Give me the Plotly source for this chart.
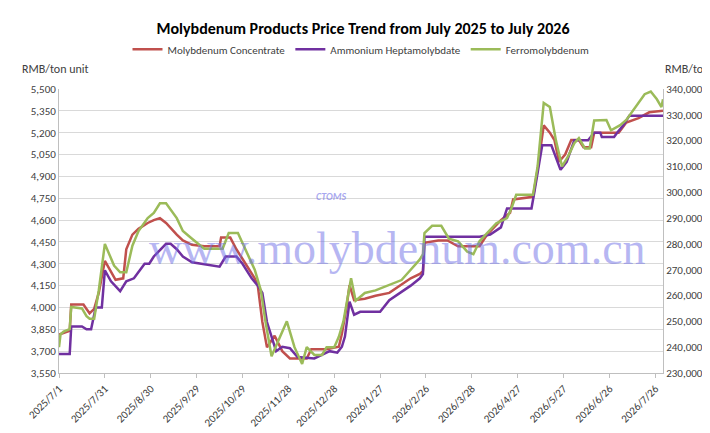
import plotly.graph_objects as go
import pandas as pd

start = pd.Timestamp("2025-07-01")

conc_days = [0,7,8,16,18,20,23,26,30,34,37,42,44,48,52,58,62,66,70,77,81,87,95,105,106,112,116,122,128,130,133,136,141,146,151,162,165,175,179,183,185,188,190,193,200,207,216,223,230,236,238,239,248,254,261,275,280,289,295,297,310,313,317,321,324,327,331,335,340,343,348,350,366,371,379,386,395]
conc_vals = [3814,3840,4020,4020,3990,3960,3990,4100,4320,4250,4190,4200,4400,4500,4540,4580,4600,4613,4580,4500,4460,4430,4420,4420,4480,4480,4400,4300,4200,4150,3900,3726,3806,3700,3650,3650,3713,3713,3720,3730,3820,4000,4153,4050,4060,4080,4100,4150,4200,4230,4250,4444,4460,4460,4420,4420,4500,4600,4650,4742,4760,4950,5250,5200,5150,5000,5050,5150,5150,5100,5100,5200,5200,5270,5300,5340,5350]

ahm_days = [0,7,8,15,18,21,24,28,30,34,40,44,49,56,59,62,70,73,77,81,87,100,105,109,116,120,126,130,133,136,142,146,151,156,167,177,182,185,187,190,193,197,210,216,223,230,236,238,239,275,282,289,293,309,311,316,322,326,328,332,337,346,350,354,355,363,365,369,373,395]
ahm_vals = [3680,3680,3870,3870,3850,3850,4000,4000,4254,4180,4112,4180,4200,4300,4300,4350,4437,4437,4400,4350,4310,4290,4280,4350,4350,4300,4200,4150,4100,3900,3700,3730,3720,3660,3650,3700,3690,3730,3800,4040,3950,3970,3970,4050,4100,4150,4200,4230,4485,4485,4500,4550,4680,4680,4800,5114,5114,5000,4945,5000,5148,5148,5200,5200,5170,5170,5200,5250,5317,5317]

ferro_days = [0,1,3,7,8,15,18,20,23,26,30,36,40,44,48,52,58,62,66,70,77,81,87,95,107,111,117,122,128,132,135,139,145,149,154,159,162,167,172,175,180,183,186,191,194,200,207,216,224,230,236,238,239,244,250,255,261,267,271,275,281,286,293,296,299,310,313,317,321,325,329,333,337,340,344,347,350,358,361,367,371,377,383,387,391,394,395]
ferro_vals = [240000,245000,246000,247000,255600,255000,252000,251000,251000,262000,280000,271600,269000,269000,279300,285000,290000,292000,295700,295700,290000,285000,282000,278100,278100,284200,284200,278000,270000,262000,250000,236500,245000,250000,240000,233500,240000,237000,237000,240000,240000,244000,250000,266700,258000,261000,262000,264000,266000,270000,274000,276000,284200,287000,287000,282000,281000,277000,276000,281000,285000,288000,290000,294000,299000,299000,310000,334600,333000,320000,310000,314000,319000,321000,317000,317000,327800,328000,324000,326000,328000,333000,338000,339000,336000,333000,336000]

tick_labels = ["2025/7/1","2025/7/31","2025/8/30","2025/9/29","2025/10/29","2025/11/28","2025/12/28","2026/1/27","2026/2/26","2026/3/28","2026/4/27","2026/5/27","2026/6/26","2026/7/26"]

def dates(d):
    return [start + pd.Timedelta(days=x) for x in d]

fig = go.Figure()
fig.add_trace(go.Scatter(x=dates(conc_days), y=conc_vals, name="Molybdenum Concentrate",
                         mode="lines", line=dict(color="#C0504D", width=2.5)))
fig.add_trace(go.Scatter(x=dates(ahm_days), y=ahm_vals, name="Ammonium Heptamolybdate",
                         mode="lines", line=dict(color="#7030A0", width=2.5)))
fig.add_trace(go.Scatter(x=dates(ferro_days), y=ferro_vals, name="Ferromolybdenum", yaxis="y2",
                         mode="lines", line=dict(color="#9BBB59", width=2.5)))

tickvals = [pd.Timestamp(t.replace("/", "-")) for t in tick_labels]
font = "Calibri, Liberation Sans, Arial, sans-serif"
fig.update_layout(
    width=710, height=433, plot_bgcolor="white", paper_bgcolor="white",
    margin=dict(l=51, r=55, t=81, b=64),
    font=dict(family=font, size=11, color="#404040"),
    title=dict(text="<b>Molybdenum Products Price Trend from July 2025 to July 2026</b>",
               x=0.5, xanchor="center", y=0.965, yanchor="top",
               font=dict(size=16, color="#000000")),
    legend=dict(orientation="h", x=0.5, xanchor="center", y=1.14, yanchor="middle",
                font=dict(size=11, color="#404040"), itemwidth=30),
    xaxis=dict(range=[start, start + pd.Timedelta(days=395)],
               tickvals=tickvals, ticktext=tick_labels, tickangle=-45,
               showgrid=False, showline=True, linecolor="#bfbfbf", ticks="outside",
               ticklen=4, tickcolor="#bfbfbf"),
    yaxis=dict(range=[3550, 5500], dtick=150, tick0=3550, tickformat=",",
               showgrid=True, gridcolor="#d9d9d9", zeroline=False, showline=True, linecolor="#bfbfbf"),
    yaxis2=dict(range=[230000, 340000], dtick=10000, tickformat=",", overlaying="y",
                side="right", showgrid=False, zeroline=False, showline=True, linecolor="#bfbfbf"),
    annotations=[
        dict(text="RMB/ton unit", xref="paper", yref="paper", x=-0.065, y=1.04,
             xanchor="left", yanchor="bottom", showarrow=False, font=dict(size=12, color="#404040")),
        dict(text="RMB/ton", xref="paper", yref="paper", x=1.0, y=1.04,
             xanchor="left", yanchor="bottom", showarrow=False, font=dict(size=12, color="#404040")),
        dict(text="www.molybdenum.com.cn", xref="paper", yref="paper", x=0.56, y=0.44,
             showarrow=False, font=dict(size=46, color="rgba(110,110,230,0.5)",
                                        family="Liberation Serif, DejaVu Serif, serif")),
        dict(text="<i><b>CTOMS</b></i>", xref="paper", yref="paper", x=0.45, y=0.62,
             showarrow=False, font=dict(size=10, color="rgba(110,110,230,0.6)")),
    ],
)
fig.write_html("out.html")
